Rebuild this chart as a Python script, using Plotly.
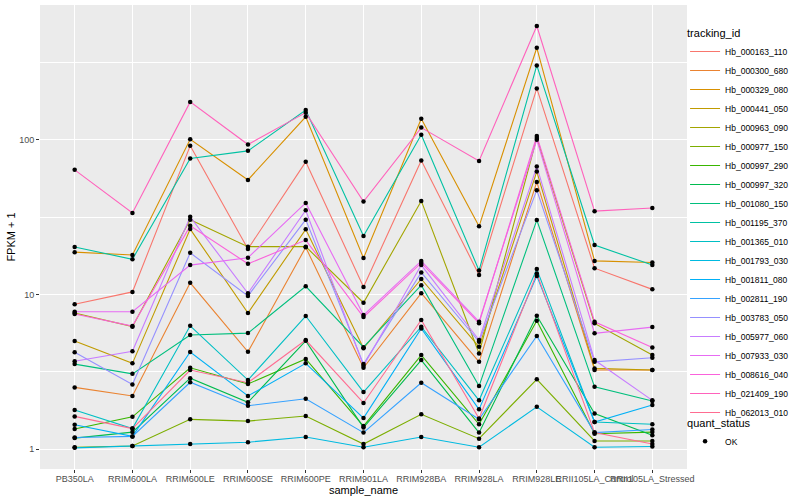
import plotly.graph_objects as go

samples = ["PB350LA", "RRIM600LA", "RRIM600LE", "RRIM600SE", "RRIM600PE", "RRIM901LA",
           "RRIM928BA", "RRIM928LA", "RRIM928LE", "RRII105LA_Control", "RRII105LA_Stressed"]

tracking_ids = ["Hb_000163_110", "Hb_000300_680", "Hb_000329_080", "Hb_000441_050", "Hb_000963_090",
                "Hb_000977_150", "Hb_000997_290", "Hb_000997_320", "Hb_001080_150", "Hb_001195_370",
                "Hb_001365_010", "Hb_001793_030", "Hb_001811_080", "Hb_002811_190", "Hb_003783_050",
                "Hb_005977_060", "Hb_007933_030", "Hb_008616_040", "Hb_021409_190", "Hb_062013_010"]

colors = ["#F8766D", "#EA8331", "#D89000", "#C09B00", "#A3A500", "#7CAE00", "#39B600", "#00BB4E",
          "#00BF7D", "#00C1A3", "#00BFC4", "#00BAE0", "#00B0F6", "#35A2FF", "#9590FF", "#C77CFF",
          "#E76BF3", "#FA62DB", "#FF62BC", "#FF6C91"]

# FPKM + 1 per tracking id, in sample order
Hb_000163_110 = [8.65, 10.4, 91.5, 19.7, 72.1, 11.2, 73.5, 13.4, 215, 14.8, 10.8]
Hb_000300_680 = [2.51, 2.21, 11.9, 4.26, 20.2, 3.36, 10.2, 3.67, 53.5, 3.25, 3.25]
Hb_000329_080 = [18.8, 18.0, 101, 55.1, 141, 17.2, 137, 27.6, 394, 16.5, 16.1]
Hb_000441_050 = [5.0, 3.59, 26.5, 7.6, 26.4, 4.49, 12.6, 4.59, 62.4, 3.33, 3.25]
Hb_000963_090 = [7.6, 6.2, 30.5, 20.4, 20.4, 8.85, 40.3, 4.16, 103, 6.51, 4.06]
Hb_000977_150 = [1.03, 1.05, 1.56, 1.52, 1.64, 1.08, 1.68, 1.17, 2.83, 1.13, 1.13]
Hb_000997_290 = [1.35, 1.62, 3.36, 2.64, 3.83, 1.41, 4.06, 1.45, 6.77, 1.26, 1.29]
Hb_000997_320 = [1.18, 1.29, 2.88, 2.01, 5.02, 1.38, 3.77, 1.28, 7.29, 1.70, 1.23]
Hb_001080_150 = [3.55, 3.07, 5.47, 5.63, 11.3, 4.57, 11.5, 2.56, 30.3, 2.53, 2.05]
Hb_001195_370 = [20.3, 16.9, 75.7, 84.9, 156, 23.9, 108, 14.3, 303, 20.9, 15.5]
Hb_001365_010 = [1.79, 1.36, 6.28, 2.80, 7.26, 2.34, 6.19, 2.07, 14.6, 1.50, 1.45]
Hb_001793_030 = [1.02, 1.05, 1.08, 1.11, 1.20, 1.03, 1.20, 1.03, 1.88, 1.03, 1.04]
Hb_001811_080 = [1.44, 1.21, 4.25, 2.21, 3.59, 1.59, 6.04, 1.81, 13.2, 1.50, 1.93]
Hb_002811_190 = [1.19, 1.21, 2.71, 1.91, 2.12, 1.28, 2.69, 1.56, 5.39, 1.28, 1.34]
Hb_003783_050 = [4.23, 2.62, 18.6, 9.8, 30.5, 3.55, 13.9, 4.95, 47.3, 3.67, 3.90]
Hb_005977_060 = [3.7, 4.3, 31.8, 10.2, 35.1, 3.46, 15.5, 5.08, 67.2, 3.77, 2.07]
Hb_007933_030 = [7.74, 7.74, 15.5, 17.3, 39.1, 7.37, 16.5, 6.67, 100, 5.61, 6.16]
Hb_008616_040 = [7.48, 6.25, 27.8, 15.8, 22.5, 7.15, 16.0, 6.53, 106, 6.67, 4.55]
Hb_021409_190 = [64, 33.7, 176, 93.3, 150, 39.9, 120, 73.1, 545, 34.6, 36.3]
Hb_062013_010 = [1.63, 1.36, 3.25, 2.69, 5.08, 1.99, 6.84, 1.58, 13.7, 1.28, 1.08]

series_values = [Hb_000163_110, Hb_000300_680, Hb_000329_080, Hb_000441_050, Hb_000963_090,
                 Hb_000977_150, Hb_000997_290, Hb_000997_320, Hb_001080_150, Hb_001195_370,
                 Hb_001365_010, Hb_001793_030, Hb_001811_080, Hb_002811_190, Hb_003783_050,
                 Hb_005977_060, Hb_007933_030, Hb_008616_040, Hb_021409_190, Hb_062013_010]

y_tick_vals = [1, 10, 100]
y_tick_text = ["1", "10", "100"]
y_minor_vals = [3.1623, 31.623, 316.23]

FONT = "Liberation Sans, Arial, sans-serif"

fig = go.Figure()

for name, col, vals in zip(tracking_ids, colors, series_values):
    fig.add_trace(go.Scatter(
        x=samples, y=vals, mode="lines", name=name,
        line=dict(color=col, width=1.1), legend="legend",
        hoverinfo="skip"))

all_x, all_y = [], []
for vals in series_values:
    all_x += samples
    all_y += vals
fig.add_trace(go.Scatter(
    x=all_x, y=all_y, mode="markers", name="OK",
    marker=dict(color="black", size=4.5, symbol="circle", line=dict(width=0)),
    legend="legend2"))

fig.update_layout(
    width=800, height=500,
    paper_bgcolor="white", plot_bgcolor="#EBEBEB",
    margin=dict(l=40, r=113, t=5, b=31, autoexpand=False),
    font=dict(family=FONT, size=9, color="#1A1A1A"),
    legend=dict(
        title=dict(text="tracking_id", font=dict(size=11, color="black")),
        x=0.997, xanchor="left", y=0.962, yanchor="top",
        font=dict(size=8.5, color="black"), itemwidth=30,
        bgcolor="rgba(255,255,255,0)", tracegroupgap=0),
    legend2=dict(
        title=dict(text="quant_status", font=dict(size=11, color="black")),
        x=0.997, xanchor="left", y=0.122, yanchor="top",
        font=dict(size=8.5, color="black"), itemwidth=30,
        bgcolor="rgba(255,255,255,0)"),
    showlegend=True,
)

fig.update_xaxes(
    type="category", categoryorder="array", categoryarray=samples,
    range=[-0.6, len(samples) - 0.4],
    showgrid=True, gridcolor="white", gridwidth=1.1,
    ticks="outside", ticklen=3, tickcolor="#333333", tickwidth=1,
    tickangle=0, tickfont=dict(size=9, color="#4D4D4D", family=FONT),
    ticklabelstandoff=-2,
    title=dict(text="sample_name", font=dict(size=11, color="black", family=FONT), standoff=1),
    zeroline=False, showline=False, automargin=False)

fig.update_yaxes(
    type="log", range=[-0.128, 2.872],
    tickmode="array", tickvals=y_tick_vals, ticktext=y_tick_text,
    showgrid=True, gridcolor="white", gridwidth=1.1,
    minor=dict(tickmode="array", tickvals=y_minor_vals, showgrid=True,
               gridcolor="white", gridwidth=0.55, ticks=""),
    ticks="outside", ticklen=3, tickcolor="#333333", tickwidth=1,
    tickfont=dict(size=9, color="#4D4D4D", family=FONT),
    title=dict(text="FPKM + 1", font=dict(size=11, color="black", family=FONT), standoff=1),
    zeroline=False, showline=False, automargin=False)

fig.write_html("out.html", config={"displayModeBar": False},
               post_script="document.body.style.margin='0px';")
